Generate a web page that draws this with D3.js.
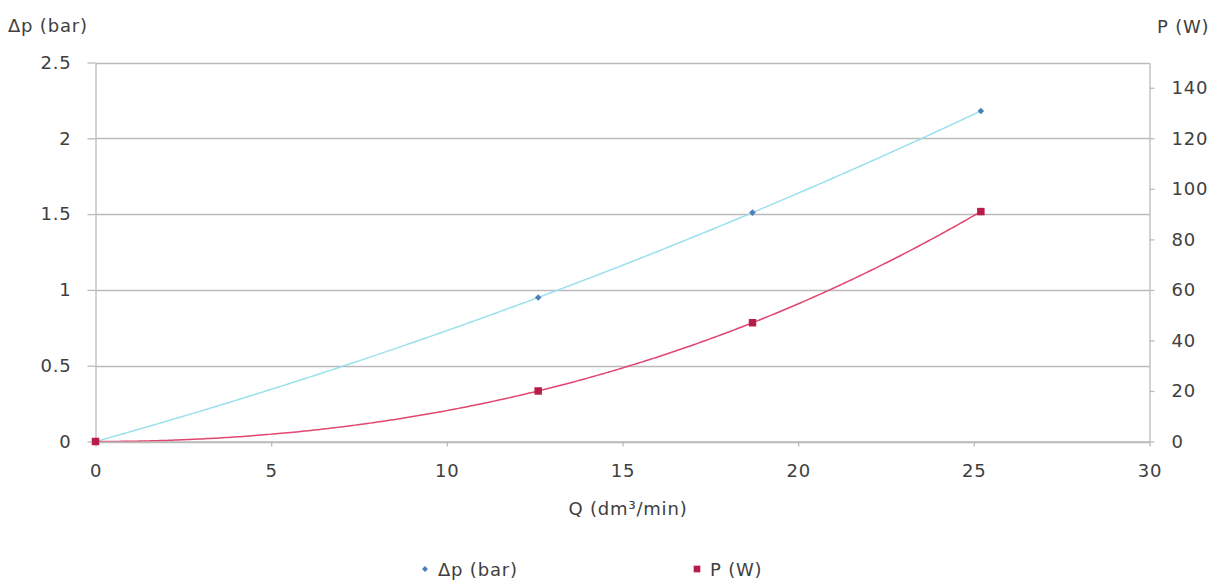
<!DOCTYPE html>
<html>
<head>
<meta charset="utf-8">
<script src="https://cdn.jsdelivr.net/npm/d3@7"></script>
<style>
  html, body { margin: 0; padding: 0; background: #fff; }
  svg { display: block; }
  text { font-family: "DejaVu Sans", sans-serif; fill: #404040; }
</style>
</head>
<body>
<svg id="chart" width="1220" height="583"></svg>
<script>
// Flow rate Q (dm³/min) at each measured point
const flow = [0, 12.6, 18.7, 25.2];
// Pressure drop Δp (bar)
const pressureDrop = [0, 0.95, 1.51, 2.18];
// Power P (W)
const power = [0, 20, 47, 91];

const xTicks = [0, 5, 10, 15, 20, 25, 30];
const leftTicks = [0, 0.5, 1, 1.5, 2, 2.5];
const rightTicks = [0, 20, 40, 60, 80, 100, 120, 140];

const seriesNames = ["Δp (bar)", "P (W)"];

const svg = d3.select("#chart");
const plot = { left: 95.5, right: 1149.5, top: 62.5, bottom: 441.5 };

const x = d3.scaleLinear().domain([0, 30]).range([plot.left, plot.right]);
const yL = d3.scaleLinear().domain([0, 2.5]).range([plot.bottom, plot.top]);
const yR = d3.scaleLinear().domain([0, 150]).range([plot.bottom, plot.top]);

const gridColor = "#bababa";
const fontSize = 18;
const letterSp = "0.8px";

// Horizontal gridlines at the left-axis ticks
svg.append("g")
  .selectAll("line")
  .data(leftTicks)
  .join("line")
  .attr("x1", plot.left).attr("x2", plot.right)
  .attr("y1", d => Math.round(yL(d)) + 0.5).attr("y2", d => Math.round(yL(d)) + 0.5)
  .attr("stroke", gridColor).attr("stroke-width", 1.3);

function styleAxis(g) {
  g.selectAll(".domain").attr("stroke", gridColor).attr("stroke-width", 1.3);
  g.selectAll(".tick line").attr("stroke", gridColor).attr("stroke-width", 1.3);
  g.selectAll(".tick text")
    .attr("fill", "#404040")
    .style("font-family", "DejaVu Sans, sans-serif")
    .style("font-size", fontSize + "px")
    .style("letter-spacing", letterSp);
}

// Left axis (Δp)
svg.append("g")
  .attr("transform", `translate(${plot.left},0)`)
  .call(d3.axisLeft(yL).tickValues(leftTicks).tickSize(8).tickSizeOuter(0).tickPadding(16)
    .tickFormat(d3.format("")))
  .call(styleAxis);

// Right axis (P)
svg.append("g")
  .attr("transform", `translate(${plot.right},0)`)
  .call(d3.axisRight(yR).tickValues(rightTicks).tickSize(5).tickSizeOuter(0).tickPadding(17)
    .tickFormat(d3.format("")))
  .call(styleAxis);

// Bottom axis (Q)
svg.append("g")
  .attr("transform", `translate(0,${plot.bottom})`)
  .call(d3.axisBottom(x).tickValues(xTicks).tickSize(5).tickSizeOuter(0).tickPadding(18)
    .tickFormat(d3.format("")))
  .call(styleAxis);

// Axis titles
function title(txt, tx, ty, anchor) {
  svg.append("text")
    .attr("x", tx).attr("y", ty)
    .attr("text-anchor", anchor)
    .attr("dominant-baseline", "central")
    .style("font-size", fontSize + "px")
    .style("letter-spacing", letterSp)
    .text(txt);
}
title("Δp (bar)", 8, 25, "start");
title("P (W)", 1157, 26, "start");
title("Q (dm³/min)", 628, 508, "middle");

// Cubic trend through the measured points (Newton divided differences)
function interpolant(xs, ys) {
  const n = xs.length;
  const c = ys.slice();
  for (let j = 1; j < n; j++) {
    for (let i = n - 1; i >= j; i--) {
      c[i] = (c[i] - c[i - 1]) / (xs[i] - xs[i - j]);
    }
  }
  return q => {
    let v = c[n - 1];
    for (let i = n - 2; i >= 0; i--) v = v * (q - xs[i]) + c[i];
    return v;
  };
}

const clipId = "plot-clip";
svg.append("clipPath").attr("id", clipId)
  .append("rect")
  .attr("x", plot.left).attr("y", plot.top - 5)
  .attr("width", plot.right - plot.left).attr("height", plot.bottom - plot.top + 5);

const qMax = d3.max(flow);
const samples = d3.range(0, 301).map(i => qMax * i / 300);

const series = [
  { name: seriesNames[0], values: pressureDrop, y: yL, line: "#9ae0ee", marker: "#4f7fb8", shape: d3.symbolDiamond2, size: 28 },
  { name: seriesNames[1], values: power, y: yR, line: "#e0466f", marker: "#b81d4a", shape: d3.symbolSquare, size: 56 }
];

series.forEach(s => {
  const f = interpolant(flow, s.values);
  svg.append("path")
    .datum(samples)
    .attr("clip-path", `url(#${clipId})`)
    .attr("fill", "none")
    .attr("stroke", s.line)
    .attr("stroke-width", 1.5)
    .attr("d", d3.line().x(q => x(q)).y(q => s.y(f(q))));
});

series.forEach(s => {
  svg.append("g")
    .selectAll("path")
    .data(flow.map((q, i) => [q, s.values[i]]))
    .join("path")
    .attr("transform", d => `translate(${x(d[0])},${s.y(d[1])})`)
    .attr("fill", s.marker)
    .attr("d", d3.symbol(s.shape, s.size));
});

// Legend
const legend = svg.append("g");
const legendItems = [
  { s: series[0], mx: 425, tx: 438 },
  { s: series[1], mx: 697, tx: 710 }
];
legendItems.forEach(it => {
  legend.append("path")
    .attr("transform", `translate(${it.mx},569)`)
    .attr("fill", it.s.marker)
    .attr("d", d3.symbol(it.s.shape, it.s.size * 0.8));
  legend.append("text")
    .attr("x", it.tx).attr("y", 569)
    .attr("dominant-baseline", "central")
    .style("font-size", fontSize + "px")
    .style("letter-spacing", letterSp)
    .text(it.s.name);
});
</script>
</body>
</html>
